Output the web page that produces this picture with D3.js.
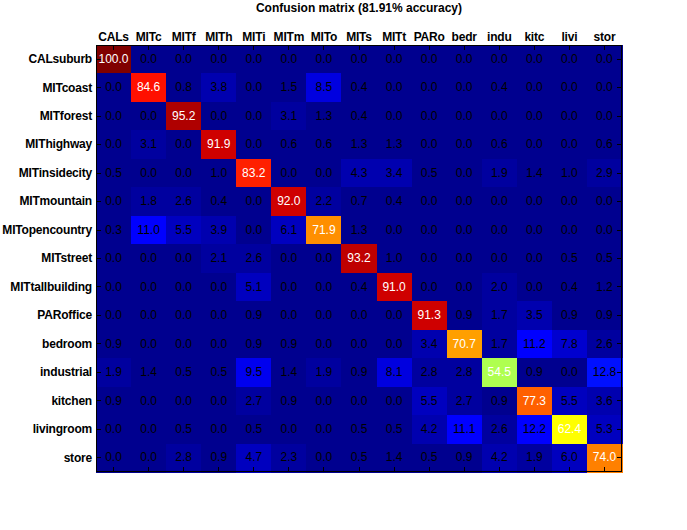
<!DOCTYPE html>
<html>
<head>
<meta charset="utf-8">
<script src="https://cdn.jsdelivr.net/npm/d3@7"></script>
<style>
  html, body { margin: 0; padding: 0; background: #fff; }
  svg { display: block; }
  text { font-family: "Liberation Sans", Arial, Helvetica, sans-serif; }
</style>
</head>
<body>
<svg id="chart" width="687" height="530"></svg>
<script>
// ---- data ----
const titleText = "Confusion matrix (81.91% accuracy)";
const rowLabels = ["CALsuburb","MITcoast","MITforest","MIThighway","MITinsidecity","MITmountain",
  "MITopencountry","MITstreet","MITtallbuilding","PARoffice","bedroom","industrial","kitchen","livingroom","store"];
const colLabels = ["CALs","MITc","MITf","MITh","MITi","MITm","MITo","MITs","MITt","PARo","bedr","indu","kitc","livi","stor"];
const confusion = [
  [100.0, 0.0, 0.0, 0.0, 0.0, 0.0, 0.0, 0.0, 0.0, 0.0, 0.0, 0.0, 0.0, 0.0, 0.0],
  [0.0, 84.6, 0.8, 3.8, 0.0, 1.5, 8.5, 0.4, 0.0, 0.0, 0.0, 0.4, 0.0, 0.0, 0.0],
  [0.0, 0.0, 95.2, 0.0, 0.0, 3.1, 1.3, 0.4, 0.0, 0.0, 0.0, 0.0, 0.0, 0.0, 0.0],
  [0.0, 3.1, 0.0, 91.9, 0.0, 0.6, 0.6, 1.3, 1.3, 0.0, 0.0, 0.6, 0.0, 0.0, 0.6],
  [0.5, 0.0, 0.0, 1.0, 83.2, 0.0, 0.0, 4.3, 3.4, 0.5, 0.0, 1.9, 1.4, 1.0, 2.9],
  [0.0, 1.8, 2.6, 0.4, 0.0, 92.0, 2.2, 0.7, 0.4, 0.0, 0.0, 0.0, 0.0, 0.0, 0.0],
  [0.3, 11.0, 5.5, 3.9, 0.0, 6.1, 71.9, 1.3, 0.0, 0.0, 0.0, 0.0, 0.0, 0.0, 0.0],
  [0.0, 0.0, 0.0, 2.1, 2.6, 0.0, 0.0, 93.2, 1.0, 0.0, 0.0, 0.0, 0.0, 0.5, 0.5],
  [0.0, 0.0, 0.0, 0.0, 5.1, 0.0, 0.0, 0.4, 91.0, 0.0, 0.0, 2.0, 0.0, 0.4, 1.2],
  [0.0, 0.0, 0.0, 0.0, 0.9, 0.0, 0.0, 0.0, 0.0, 91.3, 0.9, 1.7, 3.5, 0.9, 0.9],
  [0.9, 0.0, 0.0, 0.0, 0.9, 0.9, 0.0, 0.0, 0.0, 3.4, 70.7, 1.7, 11.2, 7.8, 2.6],
  [1.9, 1.4, 0.5, 0.5, 9.5, 1.4, 1.9, 0.9, 8.1, 2.8, 2.8, 54.5, 0.9, 0.0, 12.8],
  [0.9, 0.0, 0.0, 0.0, 2.7, 0.9, 0.0, 0.0, 0.0, 5.5, 2.7, 0.9, 77.3, 5.5, 3.6],
  [0.0, 0.0, 0.5, 0.0, 0.5, 0.0, 0.0, 0.5, 0.5, 4.2, 11.1, 2.6, 12.2, 62.4, 5.3],
  [0.0, 0.0, 2.8, 0.9, 4.7, 2.3, 0.0, 0.5, 1.4, 0.5, 0.9, 4.2, 1.9, 6.0, 74.0]
];

// ---- jet colormap (64 levels, MATLAB style) ----
function jetColors(m) {
  const n = Math.ceil(m / 4);
  const u = [];
  for (let i = 1; i <= n; i++) u.push(i / n);
  for (let i = 1; i < n; i++) u.push(1);
  for (let i = n; i >= 1; i--) u.push(i / n);
  const off = Math.ceil(n / 2) - (m % 4 === 1 ? 1 : 0);
  const cols = d3.range(m).map(() => [0, 0, 0]);
  u.forEach((val, k) => {
    const g = off + k + 1, r = g + n, b = g - n;
    if (r >= 1 && r <= m) cols[r - 1][0] = val;
    if (g >= 1 && g <= m) cols[g - 1][1] = val;
    if (b >= 1 && b <= m) cols[b - 1][2] = val;
  });
  return cols.map(c => d3.rgb(Math.round(c[0] * 255), Math.round(c[1] * 255), Math.round(c[2] * 255)).formatHex());
}
const color = d3.scaleQuantize().domain([0, 100]).range(jetColors(64));

// ---- layout ----
const svg = d3.select("#chart");
const pLeft = 96, pRight = 622, pTop = 45, pBottom = 472;
const x = d3.scaleBand().domain(colLabels).range([pLeft, pRight]);
const y = d3.scaleBand().domain(rowLabels).range([pTop, pBottom]);

const cells = [];
confusion.forEach((row, i) => row.forEach((v, j) => cells.push({ r: rowLabels[i], c: colLabels[j], v, diag: i === j })));

svg.append("g").selectAll("rect").data(cells).join("rect")
  .attr("x", d => x(d.c)).attr("y", d => y(d.r))
  .attr("width", x.bandwidth() + 0.5).attr("height", y.bandwidth() + 0.5)
  .attr("fill", d => color(d.v))
  .attr("shape-rendering", "crispEdges");

svg.append("g").selectAll("text").data(cells).join("text")
  .attr("x", d => x(d.c) + x.bandwidth() / 2)
  .attr("y", d => y(d.r) + y.bandwidth() / 2 + 3.7)
  .attr("text-anchor", "middle")
  .attr("font-size", 12)
  .attr("fill", d => d.v > 50 ? "#fff" : "#000")
  .text(d => d.v.toFixed(1));

// ---- axes ----
const tickLen = 5;
const axTop = svg.append("g").attr("transform", `translate(0,${pTop})`)
  .call(d3.axisTop(x).tickSize(-tickLen).tickPadding(4));
const axBottom = svg.append("g").attr("transform", `translate(0,${pBottom})`)
  .call(d3.axisBottom(x).tickSize(-tickLen).tickFormat(""));
const axLeft = svg.append("g").attr("transform", `translate(${pLeft},0)`)
  .call(d3.axisLeft(y).tickSize(-tickLen).tickPadding(4));
const axRight = svg.append("g").attr("transform", `translate(${pRight},0)`)
  .call(d3.axisRight(y).tickSize(-tickLen).tickFormat(""));

[axTop, axBottom, axLeft, axRight].forEach(a => {
  a.select(".domain").remove();
  a.selectAll(".tick line").attr("stroke", "#000").attr("shape-rendering", "crispEdges");
  a.selectAll(".tick text")
    .attr("fill", "#000")
    .attr("font-size", 12)
    .attr("font-weight", "bold")
    .attr("letter-spacing", "-0.2px")
    .attr("font-family", '"Liberation Sans", Arial, sans-serif');
});

svg.append("rect")
  .attr("x", pLeft + 0.5).attr("y", pTop + 0.5)
  .attr("width", pRight - pLeft - 1).attr("height", pBottom - pTop - 1)
  .attr("fill", "none").attr("stroke", "#000").attr("stroke-width", 1);

svg.append("text")
  .attr("x", (pLeft + pRight) / 2).attr("y", 12)
  .attr("text-anchor", "middle")
  .attr("font-size", 12).attr("font-weight", "bold")
  .text(titleText);
</script>
</body>
</html>
